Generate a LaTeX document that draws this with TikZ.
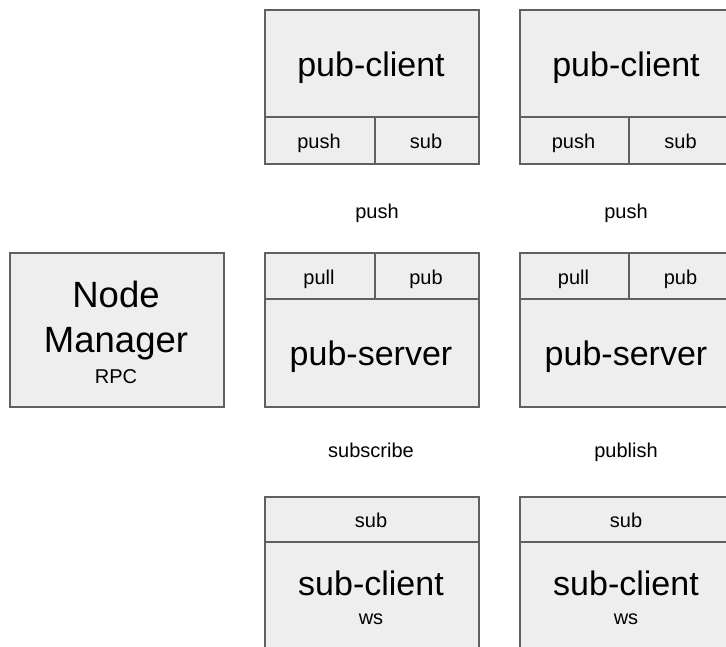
\documentclass[tikz,border=0pt]{standalone}
\usepackage{fontspec}
\setmainfont{Liberation Sans}
\definecolor{boxfill}{RGB}{238,238,238}
\definecolor{edge}{RGB}{96,96,96}
\tikzset{
  cell/.style={draw=edge, fill=boxfill, line width=1.5pt, inner sep=0pt,
    anchor=north west},
  bigtxt/.style={anchor=base, inner sep=0pt, font=\fontsize{34}{40}\selectfont},
  hugetxt/.style={anchor=base, inner sep=0pt, font=\fontsize{36.5}{42}\selectfont},
  smalltxt/.style={anchor=base, inner sep=0pt, font=\fontsize{20}{24}\selectfont},
}
\begin{document}
\begin{tikzpicture}[x=1pt, y=-1pt]
\useasboundingbox (0,0) rectangle (726,646);
\clip (0,0) rectangle (726,646);

% Node manager
\node[cell, minimum width=214pt, minimum height=154pt] (nm) at (9,252) {};
\node[hugetxt] (nmA) at (116,307) {Node};
\node[hugetxt] (nmB) at (116,352) {Manager};
\node[smalltxt] (nmC) at (116,383) {RPC};

% Publishing clients
\node[cell, minimum width=214pt, minimum height=107pt] (pcL) at (264,9) {};
\node[cell, minimum width=110pt, minimum height=47pt] (pcLpush) at (264,116) {};
\node[cell, minimum width=104pt, minimum height=47pt] (pcLsub) at (374,116) {};
\node[bigtxt] (pcLt) at (371,76) {pub-client};
\node[smalltxt] (pcLpt) at (319,148) {push};
\node[smalltxt] (pcLst) at (426,148) {sub};

\node[cell, minimum width=214pt, minimum height=107pt] (pcR) at (519,9) {};
\node[cell, minimum width=109pt, minimum height=47pt] (pcRpush) at (519,116) {};
\node[cell, minimum width=105pt, minimum height=47pt] (pcRsub) at (628,116) {};
\node[bigtxt] (pcRt) at (626,76) {pub-client};
\node[smalltxt] (pcRpt) at (573.5,148) {push};
\node[smalltxt] (pcRst) at (680.5,148) {sub};

% Labels between clients and servers
\node[smalltxt] (lbPushL) at (377,218) {push};
\node[smalltxt] (lbPushR) at (626,218) {push};

% Publishing servers
\node[cell, minimum width=110pt, minimum height=46pt] (psLpull) at (264,252) {};
\node[cell, minimum width=104pt, minimum height=46pt] (psLpub) at (374,252) {};
\node[cell, minimum width=214pt, minimum height=108pt] (psL) at (264,298) {};
\node[smalltxt] (psLpt) at (319,284) {pull};
\node[smalltxt] (psLbt) at (426,284) {pub};
\node[bigtxt] (psLt) at (371,365) {pub-server};

\node[cell, minimum width=109pt, minimum height=46pt] (psRpull) at (519,252) {};
\node[cell, minimum width=105pt, minimum height=46pt] (psRpub) at (628,252) {};
\node[cell, minimum width=214pt, minimum height=108pt] (psR) at (519,298) {};
\node[smalltxt] (psRpt) at (573.5,284) {pull};
\node[smalltxt] (psRbt) at (680.5,284) {pub};
\node[bigtxt] (psRt) at (626,365) {pub-server};

% Labels between servers and subscribers
\node[smalltxt] (lbSubscribe) at (371,457) {subscribe};
\node[smalltxt] (lbPublish) at (626,457) {publish};

% Subscribing clients
\node[cell, minimum width=214pt, minimum height=45pt] (scLsub) at (264,496) {};
\node[cell, minimum width=214pt, minimum height=109pt] (scL) at (264,541) {};
\node[smalltxt] (scLst) at (371,527) {sub};
\node[bigtxt] (scLt) at (371,595) {sub-client};
\node[smalltxt] (scLw) at (371,624) {ws};

\node[cell, minimum width=214pt, minimum height=45pt] (scRsub) at (519,496) {};
\node[cell, minimum width=214pt, minimum height=109pt] (scR) at (519,541) {};
\node[smalltxt] (scRst) at (626,527) {sub};
\node[bigtxt] (scRt) at (626,595) {sub-client};
\node[smalltxt] (scRw) at (626,624) {ws};
\end{tikzpicture}
\end{document}
